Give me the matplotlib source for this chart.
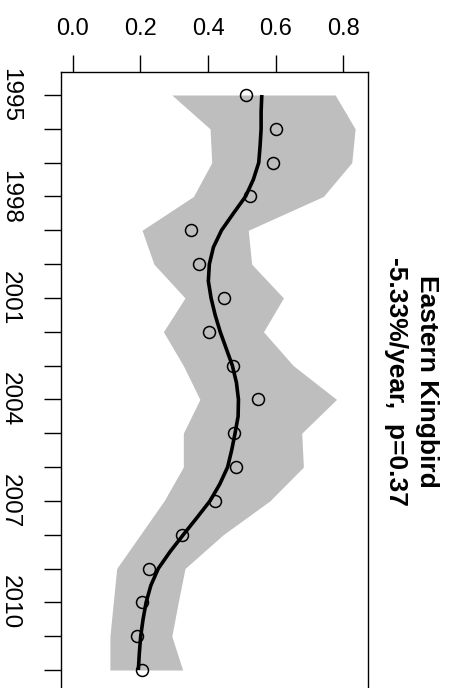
import matplotlib
matplotlib.use("Agg")
import matplotlib.pyplot as plt

plt.rcParams['font.family'] = ['Liberation Sans', 'DejaVu Sans']

years = [1995, 1996, 1997, 1998, 1999, 2000, 2001, 2002, 2003,
         2004, 2005, 2006, 2007, 2008, 2009, 2010, 2011, 2012]
index_obs = [0.512, 0.601, 0.592, 0.525, 0.350, 0.372, 0.446, 0.403, 0.473,
             0.549, 0.478, 0.483, 0.421, 0.322, 0.226, 0.204, 0.189, 0.206]
band_low = [0.293, 0.406, 0.411, 0.357, 0.205, 0.240, 0.332, 0.268, 0.327,
            0.376, 0.327, 0.327, 0.270, 0.200, 0.130, 0.120, 0.110, 0.110]
band_high = [0.776, 0.835, 0.825, 0.741, 0.519, 0.529, 0.623, 0.564, 0.652,
             0.780, 0.677, 0.682, 0.583, 0.445, 0.332, 0.312, 0.293, 0.325]
trend_years = [1995.0, 1995.5, 1996.0, 1996.5, 1997.0, 1997.5, 1998.0, 1998.5,
               1999.0, 1999.5, 2000.0, 2000.5, 2001.0, 2001.5, 2002.0, 2002.5,
               2003.0, 2003.5, 2004.0, 2004.5, 2005.0, 2005.5, 2006.0, 2006.5,
               2007.0, 2007.5, 2008.0, 2008.5, 2009.0, 2009.5, 2010.0, 2010.5,
               2011.0, 2011.5, 2012.0]
trend_vals = [0.559, 0.557, 0.557, 0.554, 0.550, 0.534, 0.511, 0.475,
              0.440, 0.416, 0.404, 0.401, 0.409, 0.421, 0.436, 0.454,
              0.472, 0.484, 0.490, 0.489, 0.480, 0.470, 0.458, 0.435,
              0.406, 0.367, 0.327, 0.288, 0.253, 0.231, 0.217, 0.208,
              0.201, 0.197, 0.194]
value_ticks = [0.0, 0.2, 0.4, 0.6, 0.8]
value_labels = ["0.0", "0.2", "0.4", "0.6", "0.8"]
labeled_years = [1995, 1998, 2001, 2004, 2007, 2010]
title_line1 = "Eastern Kingbird"
title_line2 = "-5.33%/year,  p=0.37"

W, H = 458, 688
fig = plt.figure(figsize=(W / 100, H / 100), dpi=100)
left_px, right_px, top_px, bottom_px = 60.7, 368.0, 72.0, 693.0
ax = fig.add_axes([left_px / W, 1 - bottom_px / H,
                   (right_px - left_px) / W, (bottom_px - top_px) / H])

ax.fill_betweenx(years, band_low, band_high, color='#bebebe', lw=0, zorder=1)
ax.plot(trend_vals, trend_years, color='black', lw=2.6, zorder=2,
        solid_capstyle='butt')
ax.plot(index_obs, years, 'o', mfc='none', mec='black', ms=8.6, mew=1.1,
        zorder=3)

ax.set_xlim(-0.0355, 0.873)
ax.set_ylim(2012.68, 1994.32)

ax.xaxis.tick_top()
ax.set_xticks(value_ticks)
ax.set_xticklabels(value_labels, fontsize=17)
ax.set_yticks(years)
ax.set_yticklabels([str(y) if y in labeled_years else '' for y in years],
                   rotation=-90, va='center', fontsize=17.5)
ax.tick_params(axis='x', length=12.2, width=1.0, pad=11, direction='out')
ax.tick_params(axis='y', length=12.2, width=1.0, pad=16.5, direction='out')
for s in ax.spines.values():
    s.set_linewidth(1.0)
    s.set_color('black')

fig.text(427 / W, 1 - 381 / H, title_line1, rotation=-90, ha='center',
         va='center', fontsize=19, fontweight='bold')
fig.text(396 / W, 1 - 381 / H, title_line2, rotation=-90, ha='center',
         va='center', fontsize=19, fontweight='bold')

fig.savefig('out.png', dpi=100)
